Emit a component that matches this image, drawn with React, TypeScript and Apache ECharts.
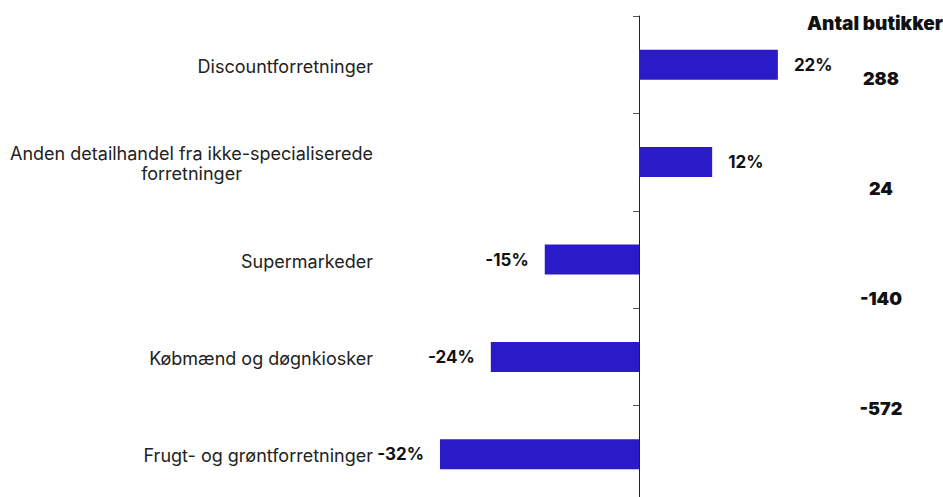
import React, { useEffect, useRef } from "react";
import * as echarts from "echarts";

const categories = [
  "Discountforretninger",
  "Anden detailhandel fra ikke-specialiserede\nforretninger",
  "Supermarkeder",
  "Købmænd og døgnkiosker",
  "Frugt- og grøntforretninger",
];
const changePct = [22.4, 11.8, -15.2, -23.9, -32.1];
const storeCountTitle = "Antal butikker";
const storeCounts = ["288", "24", "-140", "-572"];

const FONT = "Inter, 'Liberation Sans', sans-serif";

export default function App() {
  const ref = useRef<HTMLDivElement>(null);
  useEffect(() => {
    document.body.style.margin = "0";
    const chart = echarts.init(ref.current!, null, { renderer: "svg" });
    chart.setOption({
      animation: false,
      backgroundColor: "#ffffff",
      textStyle: { fontFamily: FONT },
      title: {
        text: storeCountTitle,
        right: 0,
        top: 14,
        padding: 0,
        textStyle: { fontFamily: FONT, fontSize: 19, fontWeight: 900, color: "#111" },
      },
      grid: [
        { left: 391, right: 56, top: 16, bottom: -6, containLabel: false, outerBoundsMode: "none" },
        { left: 889, width: 40, top: 23, bottom: 34, outerBoundsMode: "none" },
      ],
      xAxis: [
        {
          type: "value",
          gridIndex: 0,
          min: -40,
          max: 40,
          show: false,
        },
        { type: "value", gridIndex: 1, show: false },
      ],
      yAxis: [
        {
          type: "category",
          gridIndex: 0,
          data: categories.map((c) =>
            c
              .split("\n")
              .map((l) => `{c|${l}}`)
              .join("\n")
          ),
          inverse: true,
          axisLine: { onZero: true, lineStyle: { color: "#222", width: 1 } },
          axisTick: { show: true, length: 6, lineStyle: { color: "#555" } },
          axisLabel: {
            margin: 18,
            color: "#222",
            fontFamily: FONT,
            fontSize: 18,
            padding: [3, 0, 0, 0],
            rich: {
              c: { align: "center", fontFamily: FONT, fontSize: 18, color: "#222", lineHeight: 20 },
            },
          },
          splitLine: { show: false },
        },
        {
          type: "category",
          gridIndex: 1,
          data: storeCounts,
          inverse: true,
          axisLine: { show: false },
          axisTick: { show: false },
          axisLabel: {
            margin: 8,
            align: "center",
            color: "#111",
            fontFamily: FONT,
            fontSize: 18,
            fontWeight: 900,
          },
        },
      ],
      series: [
        {
          type: "bar",
          xAxisIndex: 0,
          yAxisIndex: 0,
          barWidth: 30,
          itemStyle: { color: "#2a1ac8" },
          data: changePct.map((v) => ({
            value: v,
            label: {
              show: true,
              position: v >= 0 ? "right" : "left",
              distance: 16,
              formatter: () => `${Math.round(v)}%`,
              color: "#111",
              fontFamily: FONT,
              fontSize: 17,
              fontWeight: 700,
            },
          })),
        },
      ],
    });
    return () => chart.dispose();
  }, []);
  return <div ref={ref} style={{ width: 943, height: 497 }} />;
}
